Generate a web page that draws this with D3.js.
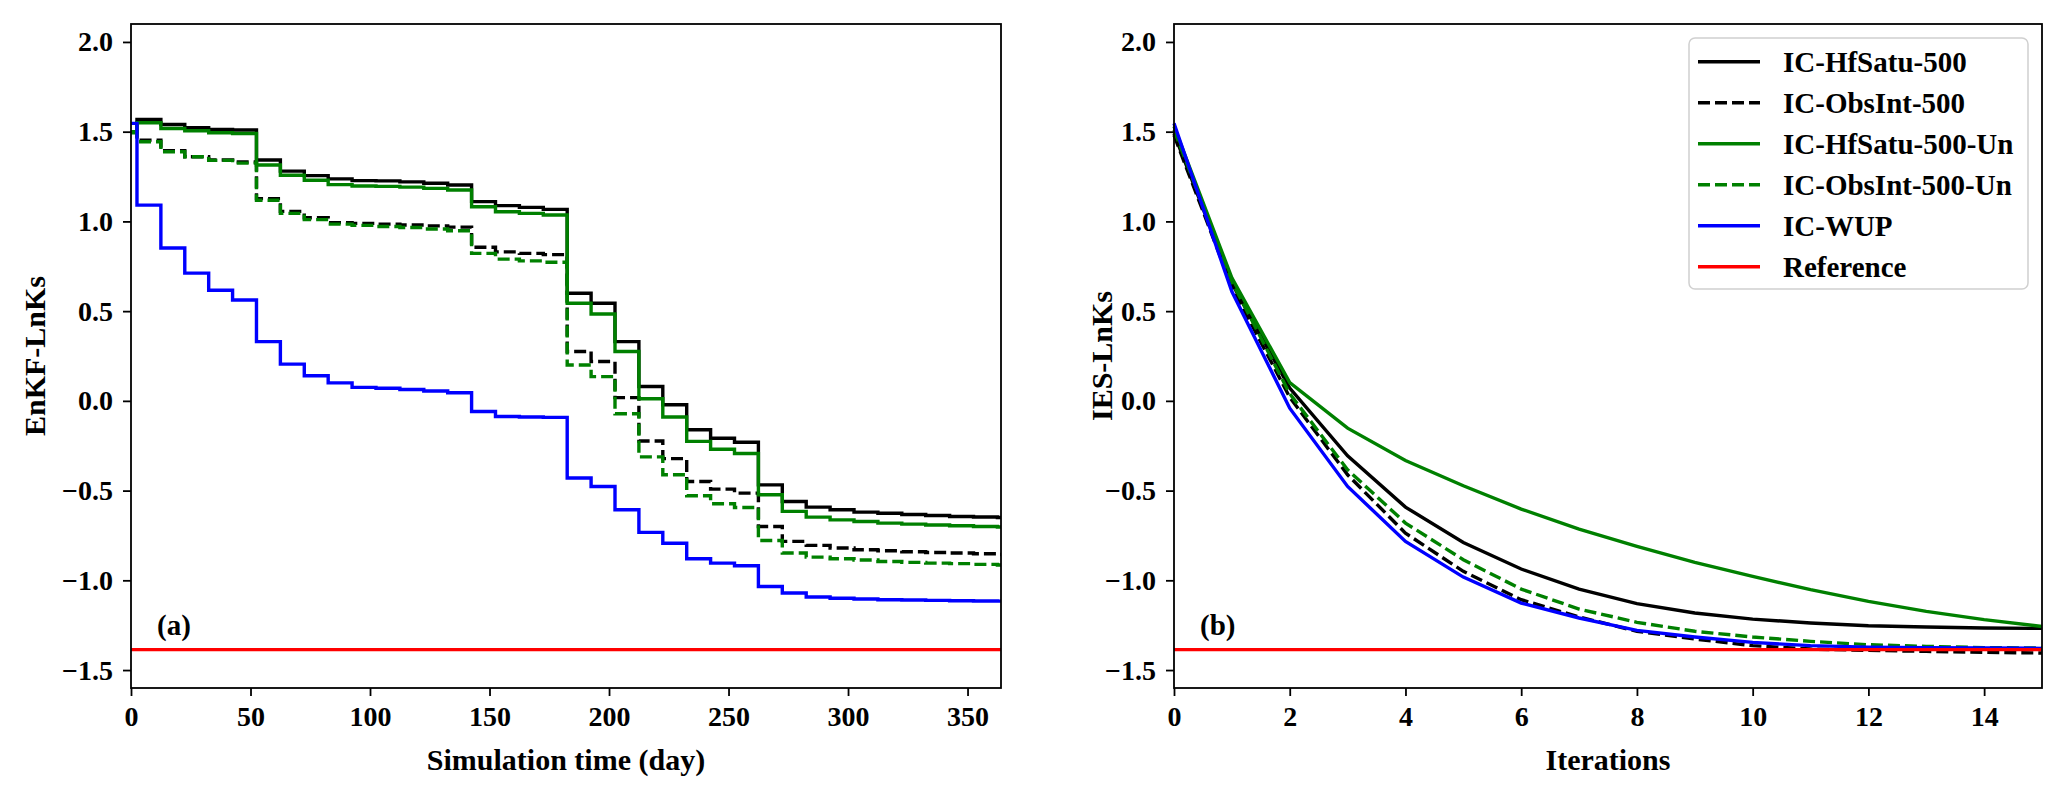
<!DOCTYPE html>
<html>
  <head>
    <meta charset="utf-8">
    <script src="https://d3js.org/d3.v7.min.js"></script>
    <style>
      body {margin: 0; background: #fff;}
      svg text {font-family: "Liberation Serif", "Times New Roman", serif; font-weight: bold; fill: #000;}
      .axis line {stroke: black; stroke-width: 1.8;}
      .axis text {font-size: 28px;}
      .frame {fill: none; stroke: black; stroke-width: 1.8;}
      .series {fill: none; stroke-width: 3.4;}
    </style>
  </head>
  <body>
    <svg id="chart" width="2067" height="801"></svg>
  </body>
  <script>
      // assimilation step days (value holds from that day until the next one), last ends at day 364
      let stepDays = [0, 2.5, 12.5, 22.5, 32.5, 42.5, 52.5, 62.5, 72.5, 82.5, 92.5, 102.5, 112.5, 122.5,
          132.5, 142.5, 152.5, 162.5, 172.5, 182.5, 192.5, 202.5, 212.5, 222.5, 232.5, 242.5, 252.5,
          262.5, 272.5, 282.5, 292.5, 302.5, 312.5, 322.5, 332.5, 342.5, 352.5, 362.5];
      let endDay = 364;

      let enkfHfSatu = [1.50, 1.568, 1.540, 1.522, 1.512, 1.509, 1.342, 1.280, 1.255, 1.237, 1.227, 1.226,
          1.220, 1.213, 1.203, 1.110, 1.088, 1.078, 1.067, 0.600, 0.544, 0.330, 0.080, -0.022, -0.161,
          -0.208, -0.231, -0.468, -0.561, -0.592, -0.607, -0.620, -0.626, -0.633, -0.639, -0.644, -0.647, -0.650];
      let enkfObsInt = [1.50, 1.453, 1.394, 1.360, 1.342, 1.331, 1.127, 1.056, 1.020, 0.993, 0.989, 0.985,
          0.980, 0.975, 0.968, 0.856, 0.830, 0.822, 0.815, 0.275, 0.219, 0.018, -0.224, -0.322, -0.449,
          -0.492, -0.514, -0.700, -0.783, -0.805, -0.820, -0.830, -0.835, -0.841, -0.845, -0.848, -0.852, -0.856];
      let enkfHfSatuUn = [1.50, 1.550, 1.518, 1.505, 1.494, 1.490, 1.314, 1.257, 1.229, 1.205, 1.197, 1.195,
          1.191, 1.184, 1.175, 1.082, 1.054, 1.045, 1.036, 0.544, 0.484, 0.275, 0.012, -0.090, -0.226,
          -0.270, -0.293, -0.523, -0.616, -0.648, -0.663, -0.672, -0.681, -0.687, -0.692, -0.696, -0.700, -0.703];
      let enkfObsIntUn = [1.494, 1.444, 1.388, 1.360, 1.340, 1.325, 1.118, 1.045, 1.010, 0.985, 0.978, 0.972,
          0.966, 0.958, 0.948, 0.822, 0.790, 0.780, 0.772, 0.200, 0.135, -0.072, -0.312, -0.412, -0.529,
          -0.573, -0.594, -0.778, -0.848, -0.871, -0.880, -0.887, -0.895, -0.900, -0.904, -0.907, -0.911, -0.915];
      let enkfWUP = [1.546, 1.091, 0.852, 0.712, 0.616, 0.562, 0.330, 0.205, 0.140, 0.100, 0.075, 0.070,
          0.063, 0.055, 0.045, -0.059, -0.087, -0.090, -0.092, -0.430, -0.477, -0.607, -0.733, -0.793, -0.880,
          -0.904, -0.919, -1.034, -1.071, -1.093, -1.100, -1.104, -1.108, -1.110, -1.112, -1.114, -1.115, -1.116];

      let iterations = d3.range(0, 16);
      let iesHfSatu = [1.49, 0.655, 0.071, -0.306, -0.592, -0.789, -0.937, -1.049, -1.130, -1.182, -1.216,
          -1.238, -1.253, -1.260, -1.266, -1.268];
      let iesObsInt = [1.48, 0.635, 0.020, -0.412, -0.737, -0.950, -1.108, -1.204, -1.284, -1.327, -1.364,
          -1.383, -1.390, -1.396, -1.401, -1.405];
      let iesHfSatuUn = [1.53, 0.685, 0.102, -0.152, -0.332, -0.473, -0.603, -0.715, -0.811, -0.900, -0.978,
          -1.052, -1.117, -1.173, -1.219, -1.257];
      let iesObsIntUn = [1.51, 0.665, 0.040, -0.384, -0.681, -0.885, -1.049, -1.160, -1.234, -1.284, -1.316,
          -1.340, -1.359, -1.368, -1.375, -1.377];
      let iesWUP = [1.546, 0.609, -0.041, -0.477, -0.783, -0.982, -1.127, -1.210, -1.279, -1.316, -1.346,
          -1.364, -1.372, -1.375, -1.377, -1.379];

      let referenceLnKs = -1.386;

      let seriesNames = ["IC-HfSatu-500", "IC-ObsInt-500", "IC-HfSatu-500-Un", "IC-ObsInt-500-Un", "IC-WUP", "Reference"];
      let seriesColors = ["black", "black", "green", "green", "blue", "red"];
      let seriesDashed = [false, true, false, true, false, false];

      let yTicks = [-1.5, -1.0, -0.5, 0.0, 0.5, 1.0, 1.5, 2.0];
      let dayTicks = [0, 50, 100, 150, 200, 250, 300, 350];
      let iterTicks = [0, 2, 4, 6, 8, 10, 12, 14];

      let plotTop = 24, plotBottom = 688;
      let dash = "12,5";
      let svg = d3.select("#chart");

      function make_panel(opts) {
          let x = d3.scaleLinear().domain(opts.xDomain).range([opts.left, opts.right]);
          let y = d3.scaleLinear().domain([-1.6, 2.1]).range([plotBottom, plotTop]);
          let g = svg.append("g");

          let line = d3.line().x(d => x(d[0])).y(d => y(d[1]));
          if (opts.step) line.curve(d3.curveStepAfter);

          opts.series.forEach((pts, i) => {
              g.append("path").attr("class", "series")
                  .attr("d", line(pts))
                  .attr("stroke", seriesColors[i])
                  .attr("stroke-dasharray", seriesDashed[i] ? dash : null);
          });
          // reference line
          g.append("path").attr("class", "series")
              .attr("d", line([[opts.xDomain[0], referenceLnKs], [opts.xDomain[1], referenceLnKs]]))
              .attr("stroke", "red");

          g.append("g").attr("class", "axis")
              .attr("transform", `translate(0,${plotBottom})`)
              .call(d3.axisBottom(x).tickValues(opts.xTicks).tickSize(8).tickPadding(10).tickSizeOuter(0))
              .call(a => a.select(".domain").remove());
          g.append("g").attr("class", "axis")
              .attr("transform", `translate(${opts.left},0)`)
              .call(d3.axisLeft(y).tickValues(yTicks).tickFormat(d3.format(".1f")).tickSize(8).tickPadding(10).tickSizeOuter(0))
              .call(a => a.select(".domain").remove());

          g.append("rect").attr("class", "frame")
              .attr("x", opts.left).attr("y", plotTop)
              .attr("width", opts.right - opts.left).attr("height", plotBottom - plotTop);

          g.append("text").attr("x", opts.left + 26).attr("y", 635)
              .style("font-size", "29px").text(opts.tag);
          g.append("text").attr("x", (opts.left + opts.right) / 2).attr("y", 770)
              .attr("text-anchor", "middle").style("font-size", "30px").text(opts.xLabel);
          g.append("text")
              .attr("transform", `translate(${opts.left - opts.yLabelGap},${(plotTop + plotBottom) / 2}) rotate(-90)`)
              .attr("text-anchor", "middle").style("font-size", "30px").text(opts.yLabel);
          return g;
      }

      function steps(vals) {
          let pts = stepDays.map((d, i) => [d, vals[i]]);
          pts.push([endDay, vals[vals.length - 1]]);
          return pts;
      }
      function iters(vals) {
          return iterations.map((it, i) => [it, vals[i]]);
      }

      make_panel({
          left: 131, right: 1001, xDomain: [0, endDay], xTicks: dayTicks, step: true, yLabelGap: 86,
          series: [enkfHfSatu, enkfObsInt, enkfHfSatuUn, enkfObsIntUn, enkfWUP].map(steps),
          tag: "(a)", xLabel: "Simulation time (day)", yLabel: "EnKF-LnKs"
      });
      make_panel({
          left: 1174, right: 2042, xDomain: [0, 15], xTicks: iterTicks, step: false, yLabelGap: 62,
          series: [iesHfSatu, iesObsInt, iesHfSatuUn, iesObsIntUn, iesWUP].map(iters),
          tag: "(b)", xLabel: "Iterations", yLabel: "IES-LnKs"
      });

      // legend
      let legend = svg.append("g");
      legend.append("rect")
          .attr("x", 1689).attr("y", 38).attr("width", 339).attr("height", 251)
          .attr("rx", 6).attr("fill", "white").attr("fill-opacity", 0.8)
          .attr("stroke", "#d0d0d0").attr("stroke-width", 1.5);
      seriesNames.forEach((name, i) => {
          let cy = 61.7 + 41 * i;
          legend.append("line")
              .attr("x1", 1698).attr("x2", 1760).attr("y1", cy).attr("y2", cy)
              .attr("stroke", seriesColors[i]).attr("stroke-width", 3.4)
              .attr("stroke-dasharray", seriesDashed[i] ? dash : null);
          legend.append("text").attr("x", 1783).attr("y", cy + 10)
              .style("font-size", "29px").text(name);
      });
  </script>
</html>
